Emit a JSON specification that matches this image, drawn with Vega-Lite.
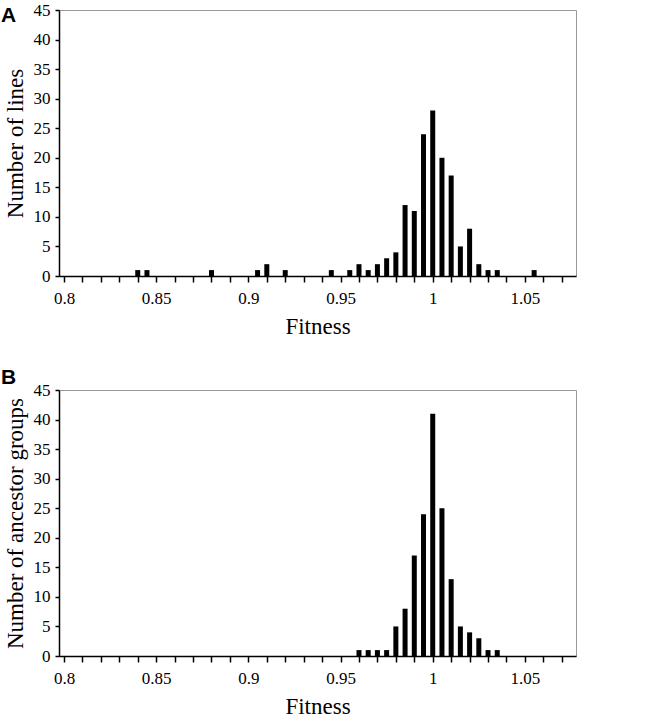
{
  "$schema": "https://vega.github.io/schema/vega-lite/v6.json",
  "padding": {"left": 0, "top": 0, "right": 5, "bottom": 0},
  "spacing": 27,
  "background": "white",
  "datasets": {
    "a": [
      {"fitness": 0.84, "count": 1}, {"fitness": 0.845, "count": 1}, {"fitness": 0.88, "count": 1},
      {"fitness": 0.905, "count": 1}, {"fitness": 0.91, "count": 2}, {"fitness": 0.92, "count": 1},
      {"fitness": 0.945, "count": 1}, {"fitness": 0.955, "count": 1}, {"fitness": 0.96, "count": 2},
      {"fitness": 0.965, "count": 1}, {"fitness": 0.97, "count": 2}, {"fitness": 0.975, "count": 3},
      {"fitness": 0.98, "count": 4}, {"fitness": 0.985, "count": 12}, {"fitness": 0.99, "count": 11},
      {"fitness": 0.995, "count": 24}, {"fitness": 1.0, "count": 28}, {"fitness": 1.005, "count": 20},
      {"fitness": 1.01, "count": 17}, {"fitness": 1.015, "count": 5}, {"fitness": 1.02, "count": 8},
      {"fitness": 1.025, "count": 2}, {"fitness": 1.03, "count": 1}, {"fitness": 1.035, "count": 1},
      {"fitness": 1.055, "count": 1}
    ],
    "b": [
      {"fitness": 0.96, "count": 1}, {"fitness": 0.965, "count": 1}, {"fitness": 0.97, "count": 1},
      {"fitness": 0.975, "count": 1}, {"fitness": 0.98, "count": 5}, {"fitness": 0.985, "count": 8},
      {"fitness": 0.99, "count": 17}, {"fitness": 0.995, "count": 24}, {"fitness": 1.0, "count": 41},
      {"fitness": 1.005, "count": 25}, {"fitness": 1.01, "count": 13}, {"fitness": 1.015, "count": 5},
      {"fitness": 1.02, "count": 4}, {"fitness": 1.025, "count": 3}, {"fitness": 1.03, "count": 1},
      {"fitness": 1.035, "count": 1}
    ]
  },
  "vconcat": [
    {
      "width": 517,
      "height": 266,
      "title": {"text": "A", "anchor": "start", "frame": "group", "dx": -58, "dy": 22, "offset": -3},
      "data": {"name": "a"},
      "mark": {"type": "bar", "width": 5, "color": "black"},
      "encoding": {
        "x": {"field": "fitness", "type": "quantitative", "title": "Fitness",
              "scale": {"domain": [0.8, 1.075], "nice": false, "zero": false},
              "axis": {"values": [0.8,0.81,0.82,0.83,0.84,0.85,0.86,0.87,0.88,0.89,0.9,0.91,0.92,0.93,0.94,0.95,0.96,0.97,0.98,0.99,1,1.01,1.02,1.03,1.04,1.05,1.06,1.07],
                       "format": "~g",
                       "labelExpr": "abs(datum.value * 20 - round(datum.value * 20)) < 0.000001 ? datum.label : ''"}},
        "y": {"field": "count", "type": "quantitative", "title": "Number of lines",
              "scale": {"domain": [0, 45], "nice": false},
              "axis": {"values": [0,5,10,15,20,25,30,35,40,45]}}
      }
    },
    {
      "width": 517,
      "height": 266,
      "title": {"text": "B", "anchor": "start", "frame": "group", "dx": -58, "dy": 7, "offset": 0},
      "data": {"name": "b"},
      "mark": {"type": "bar", "width": 5, "color": "black"},
      "encoding": {
        "x": {"field": "fitness", "type": "quantitative", "title": "Fitness",
              "scale": {"domain": [0.8, 1.075], "nice": false, "zero": false},
              "axis": {"values": [0.8,0.81,0.82,0.83,0.84,0.85,0.86,0.87,0.88,0.89,0.9,0.91,0.92,0.93,0.94,0.95,0.96,0.97,0.98,0.99,1,1.01,1.02,1.03,1.04,1.05,1.06,1.07],
                       "format": "~g",
                       "labelExpr": "abs(datum.value * 20 - round(datum.value * 20)) < 0.000001 ? datum.label : ''"}},
        "y": {"field": "count", "type": "quantitative", "title": "Number of ancestor groups",
              "scale": {"domain": [0, 45], "nice": false},
              "axis": {"values": [0,5,10,15,20,25,30,35,40,45]}}
      }
    }
  ],
  "config": {
    "view": {"stroke": "#999999", "strokeWidth": 1},
    "title": {"font": "Liberation Sans", "fontSize": 21, "fontWeight": "bold", "color": "black"},
    "axis": {
      "grid": false,
      "domainColor": "black",
      "domainWidth": 1.5,
      "tickColor": "black",
      "tickWidth": 1.5,
      "labelFont": "Liberation Serif",
      "labelFontSize": 17,
      "labelColor": "black",
      "titleFont": "Liberation Serif",
      "titleFontSize": 23,
      "titleFontWeight": "normal",
      "titleColor": "black"
    },
    "axisX": {"tickSize": 6, "labelPadding": 8, "titlePadding": 9, "labelFlush": false},
    "axisY": {"tickSize": 4, "labelPadding": 5, "titlePadding": 6}
  }
}
